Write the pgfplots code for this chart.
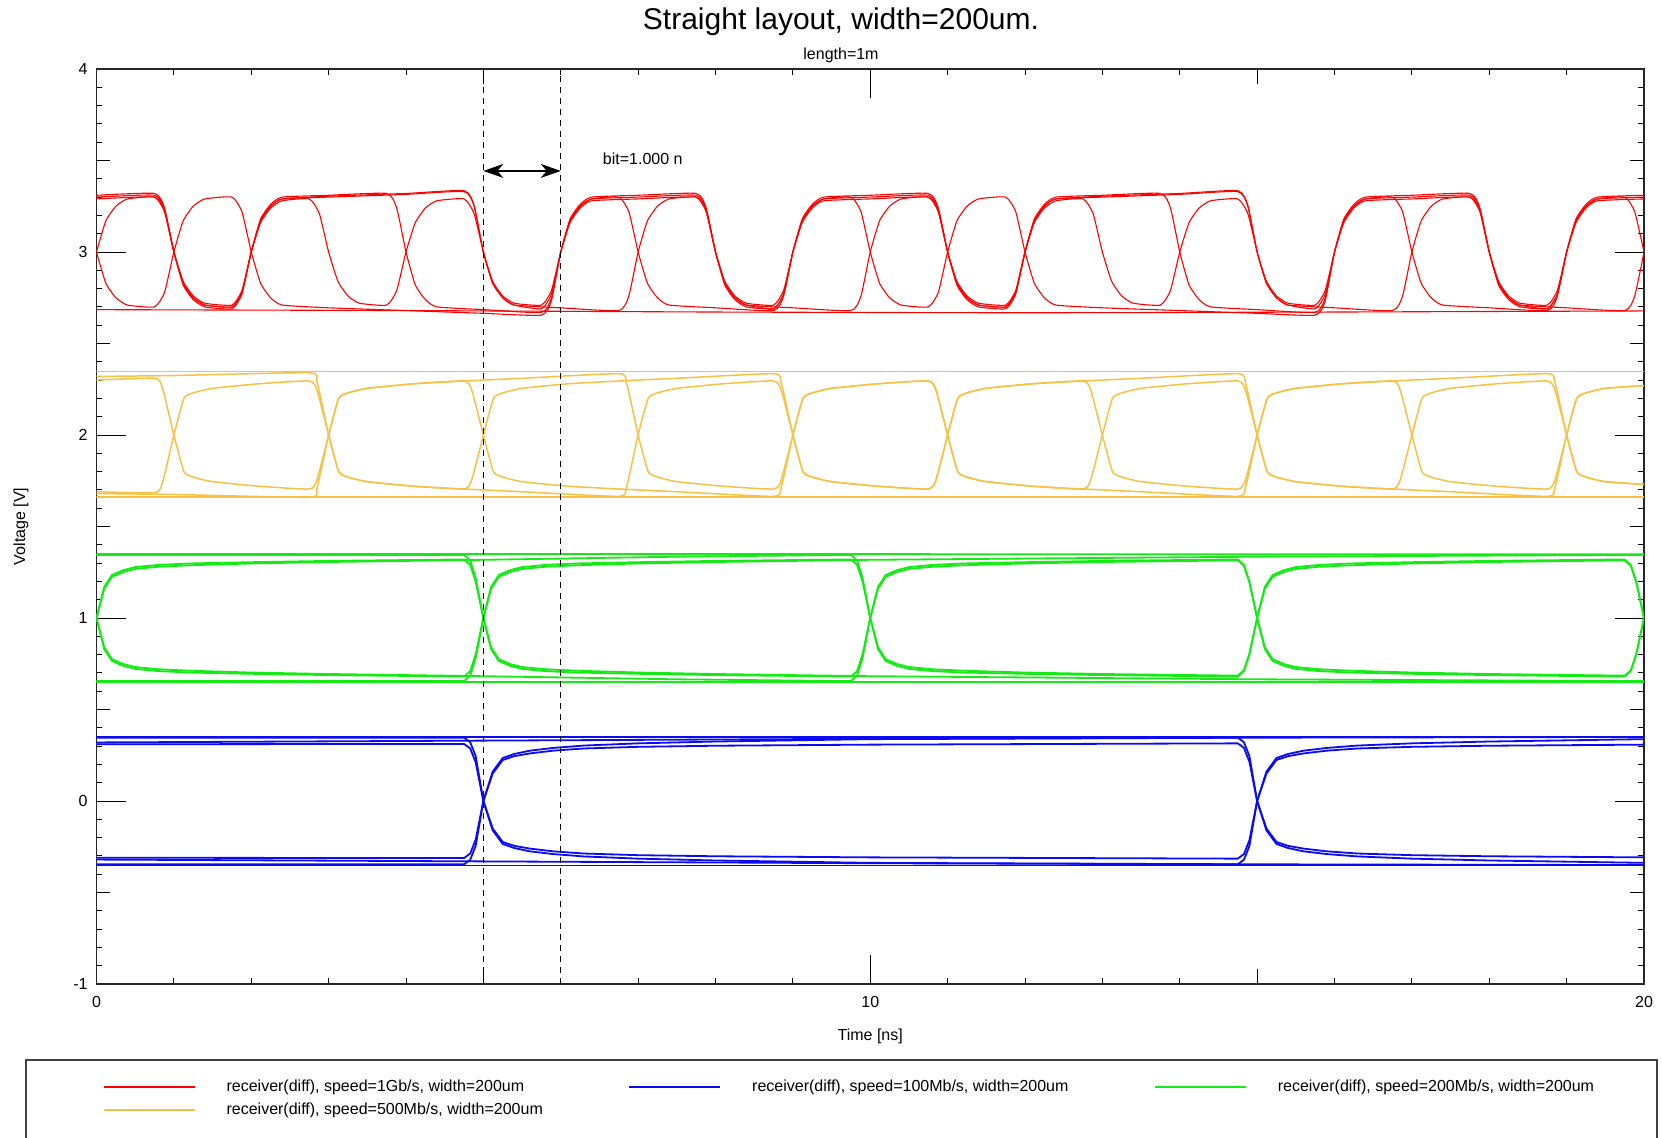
\documentclass[border=0pt]{standalone}
\usepackage{fontspec}
\setmainfont{Liberation Sans}
\usepackage{pgfplots}
\pgfplotsset{compat=1.18}
\usetikzlibrary{arrows.meta}
\definecolor{sigred}{RGB}{255,0,0}
\definecolor{sigyel}{RGB}{248,193,68}
\definecolor{siggrn}{RGB}{20,235,20}
\definecolor{sigblu}{RGB}{10,10,245}
\newcommand{\smallf}{\fontsize{8}{9.6}\selectfont}
\pgfplotsset{
  redtr/.style={sigred, line width=0.55pt, smooth, tension=0.3},
  yeltr/.style={sigyel, line width=0.75pt, smooth, tension=0.3},
  grntr/.style={siggrn, line width=0.9pt, sharp plot},
  blutr/.style={sigblu, line width=0.9pt, sharp plot},
}

\begin{document}
\begin{tikzpicture}
\begin{axis}[
  at={(0,0)}, anchor=south west,
  scale only axis,
  width=773.75pt, height=457.5pt,
  xmin=0, xmax=20, ymin=-1, ymax=4,
  xtick={0,10,20}, ytick={-1,0,1,2,3,4},
  minor x tick num=9, minor y tick num=9,
  extra x ticks={5,15}, extra x tick labels={},
  extra x tick style={major tick length=7.5pt},
  extra y ticks={-0.5,0.5,1.5,2.5,3.5}, extra y tick labels={},
  extra y tick style={major tick length=7pt},
  tick align=inside, xtick pos=both, ytick pos=both,
  xticklabel pos=lower, yticklabel pos=left,
  major tick length=14.7pt, minor tick length=3pt,
  every tick/.style={black, line width=0.5pt},
  axis line style={black!85, line width=0.9pt},
  /pgf/number format/assume math mode=true,
  ticklabel style={font=\smallf},
  xticklabel style={anchor=center, yshift=-9pt},
  yticklabel style={anchor=east, inner sep=0pt, xshift=-4.25pt},
  xlabel={Time [ns]},
  xlabel style={font=\smallf, at={(axis description cs:0.5,0)}, anchor=center, yshift=-26pt},
  legend columns=3,
  legend cell align=left,
  legend image code/.code={\draw[#1, line width=0.8pt] (0pt,0pt) -- (45.5pt,0pt);},
  legend style={draw=none, fill=none, inner sep=0pt, outer sep=0pt,
    nodes={inner sep=0pt}, font=\smallf,
    at={(axis description cs:0.0042,-0.1043)}, anchor=north west,
    row sep=4.4pt,
    /tikz/every odd column/.append style={column sep=15.5pt}},
]
% red, 1Gb/s
\addplot[redtr] coordinates {
(0,3.30) (0.75,3.31) (0.88,3.23) (1,3.0) (1.12,2.83) (1.25,2.75) (1.4,2.71) (1.75,2.70) (1.88,2.78) (2,3.0) (2.12,3.17) (2.25,3.25) (2.4,3.29) (3,3.30) (4,3.315) (4.75,3.33) (4.88,3.25) (5,3.0) (5.12,2.83) (5.25,2.75) (5.4,2.71) (5.75,2.69) (5.88,2.77) (6,3.0) (6.12,3.17) (6.25,3.25) (6.4,3.29) (7,3.30) (7.75,3.31) (7.88,3.23) (8,3.0) (8.12,2.83) (8.25,2.75) (8.4,2.71) (8.75,2.69) (8.88,2.77) (9,3.0) (9.12,3.17) (9.25,3.25) (9.4,3.29) (10,3.30) (10.75,3.31) (10.88,3.23) (11,3.0) (11.12,2.83) (11.25,2.75) (11.4,2.71) (11.75,2.70) (11.88,2.78) (12,3.0) (12.12,3.17) (12.25,3.25) (12.4,3.29) (13,3.30) (14,3.315) (14.75,3.33) (14.88,3.25) (15,3.0) (15.12,2.83) (15.25,2.75) (15.4,2.71) (15.75,2.69) (15.88,2.77) (16,3.0) (16.12,3.17) (16.25,3.25) (16.4,3.29) (17,3.30) (17.75,3.31) (17.88,3.23) (18,3.0) (18.12,2.83) (18.25,2.75) (18.4,2.71) (18.75,2.69) (18.88,2.77) (19,3.0) (19.12,3.17) (19.25,3.25) (19.4,3.29) (20,3.30)};
\addlegendentry{\makebox[201pt][l]{receiver(diff), speed=1Gb/s, width=200um}}
% blue, 100Mb/s
\addplot[blutr] coordinates {
(0,0.346) (4.75,0.346) (4.83,0.321) (4.9,0.246) (5,0.0) (5.12,-0.15) (5.25,-0.224) (5.4,-0.245) (5.6,-0.26) (5.9,-0.275) (6.3,-0.287) (7,-0.296) (8,-0.302) (10,-0.308) (14.75,-0.315) (14.83,-0.29) (14.9,-0.215) (15,0.0) (15.12,0.16) (15.25,0.235) (15.4,0.257) (15.6,0.275) (15.9,0.29) (16.3,0.303) (17,0.315) (18,0.325) (20,0.338)};
\addlegendentry{\makebox[201pt][l]{receiver(diff), speed=100Mb/s, width=200um}}
% green, 200Mb/s
\addplot[grntr] coordinates {
(0,1.0) (0.1,1.17) (0.2,1.235) (0.35,1.262) (0.5,1.278) (0.8,1.29) (1.2,1.298) (2,1.305) (3,1.312) (4.75,1.32) (4.83,1.29) (4.9,1.20) (5,1.0) (5.1,0.83) (5.2,0.765) (5.35,0.738) (5.5,0.722) (5.8,0.71) (6.2,0.702) (7,0.695) (8,0.688) (9.75,0.68) (9.83,0.71) (9.9,0.80) (10,1.0) (10.1,1.17) (10.2,1.235) (10.35,1.262) (10.5,1.278) (10.8,1.29) (11.2,1.298) (12,1.305) (13,1.312) (14.75,1.32) (14.83,1.29) (14.9,1.20) (15,1.0) (15.1,0.83) (15.2,0.765) (15.35,0.738) (15.5,0.722) (15.8,0.71) (16.2,0.702) (17,0.695) (18,0.688) (19.75,0.68) (19.83,0.71) (19.9,0.80) (20,1.0)};
\addlegendentry{\makebox[201pt][l]{receiver(diff), speed=200Mb/s, width=200um}}
% yellow, 500Mb/s
\addplot[yeltr] coordinates {
(0,2.30) (0.75,2.31) (0.85,2.26) (1,2.0) (1.13,1.80) (1.25,1.77) (1.5,1.745) (2.1,1.72) (2.75,1.705) (2.85,1.755) (3,2.0) (3.13,2.20) (3.25,2.23) (3.5,2.255) (4.1,2.28) (4.75,2.295) (5.5,2.31) (6.75,2.335) (6.85,2.285) (7,2.0) (7.13,1.80) (7.25,1.77) (7.5,1.745) (8.1,1.72) (8.75,1.705) (8.85,1.755) (9,2.0) (9.13,2.20) (9.25,2.23) (9.5,2.255) (10.1,2.28) (10.75,2.295) (10.85,2.245) (11,2.0) (11.13,1.80) (11.25,1.77) (11.5,1.745) (12.1,1.72) (12.75,1.705) (13.5,1.69) (14.75,1.665) (14.85,1.715) (15,2.0) (15.13,2.20) (15.25,2.23) (15.5,2.255) (16.1,2.28) (16.75,2.295) (16.85,2.245) (17,2.0) (17.13,1.80) (17.25,1.77) (17.5,1.745) (18.1,1.72) (18.75,1.705) (18.85,1.755) (19,2.0) (19.13,2.20) (19.25,2.23) (19.5,2.255) (20,2.27)};
\addlegendentry{\makebox[201pt][l]{receiver(diff), speed=500Mb/s, width=200um}}

\addplot[redtr, forget plot] coordinates {
(0,3.31) (0.75,3.32) (0.88,3.24) (1,3.0) (1.12,2.82) (1.25,2.74) (1.4,2.70) (1.75,2.69) (1.88,2.77) (2,3.0) (2.12,3.18) (2.25,3.26) (2.4,3.30) (3,3.31) (3.75,3.32) (3.88,3.24) (4,3.0) (4.12,2.82) (4.25,2.74) (4.4,2.70) (5,2.685) (5.75,2.67) (5.88,2.75) (6,3.0) (6.12,3.18) (6.25,3.26) (6.4,3.30) (7,3.31) (7.75,3.32) (7.88,3.24) (8,3.0) (8.12,2.82) (8.25,2.74) (8.4,2.70) (8.75,2.69) (8.88,2.77) (9,3.0) (9.12,3.18) (9.25,3.26) (9.4,3.30) (10,3.31) (10.75,3.32) (10.88,3.24) (11,3.0) (11.12,2.82) (11.25,2.74) (11.4,2.70) (11.75,2.69) (11.88,2.77) (12,3.0) (12.12,3.18) (12.25,3.26) (12.4,3.30) (13,3.31) (13.75,3.32) (13.88,3.24) (14,3.0) (14.12,2.82) (14.25,2.74) (14.4,2.70) (15,2.685) (15.75,2.67) (15.88,2.75) (16,3.0) (16.12,3.18) (16.25,3.26) (16.4,3.30) (17,3.31) (17.75,3.32) (17.88,3.24) (18,3.0) (18.12,2.82) (18.25,2.74) (18.4,2.70) (18.75,2.69) (18.88,2.77) (19,3.0) (19.12,3.18) (19.25,3.26) (19.4,3.30) (20,3.31)};
\addplot[redtr, forget plot] coordinates {
(0,3.29) (0.75,3.30) (0.88,3.22) (1,3.0) (1.12,2.84) (1.25,2.76) (1.4,2.72) (1.75,2.71) (1.88,2.79) (2,3.0) (2.12,3.16) (2.25,3.24) (2.4,3.28) (2.75,3.29) (2.88,3.21) (3,3.0) (3.12,2.84) (3.25,2.76) (3.4,2.72) (3.75,2.71) (3.88,2.79) (4,3.0) (4.12,3.16) (4.25,3.24) (4.4,3.28) (4.75,3.29) (4.88,3.21) (5,3.0) (5.12,2.84) (5.25,2.76) (5.4,2.72) (5.75,2.71) (5.88,2.79) (6,3.0) (6.12,3.16) (6.25,3.24) (6.4,3.28) (7,3.29) (7.75,3.30) (7.88,3.22) (8,3.0) (8.12,2.84) (8.25,2.76) (8.4,2.72) (8.75,2.71) (8.88,2.79) (9,3.0) (9.12,3.16) (9.25,3.24) (9.4,3.28) (10,3.29) (10.75,3.30) (10.88,3.22) (11,3.0) (11.12,2.84) (11.25,2.76) (11.4,2.72) (11.75,2.71) (11.88,2.79) (12,3.0) (12.12,3.16) (12.25,3.24) (12.4,3.28) (12.75,3.29) (12.88,3.21) (13,3.0) (13.12,2.84) (13.25,2.76) (13.4,2.72) (13.75,2.71) (13.88,2.79) (14,3.0) (14.12,3.16) (14.25,3.24) (14.4,3.28) (14.75,3.29) (14.88,3.21) (15,3.0) (15.12,2.84) (15.25,2.76) (15.4,2.72) (15.75,2.71) (15.88,2.79) (16,3.0) (16.12,3.16) (16.25,3.24) (16.4,3.28) (17,3.29) (17.75,3.30) (17.88,3.22) (18,3.0) (18.12,2.84) (18.25,2.76) (18.4,2.72) (18.75,2.71) (18.88,2.79) (19,3.0) (19.12,3.16) (19.25,3.24) (19.4,3.28) (20,3.29)};
\addplot[redtr, forget plot] coordinates {
(0,3.0) (0.12,2.83) (0.25,2.75) (0.4,2.71) (0.75,2.70) (0.88,2.78) (1,3.0) (1.12,3.17) (1.25,3.25) (1.4,3.29) (1.75,3.30) (1.88,3.22) (2,3.0) (2.12,2.83) (2.25,2.75) (2.4,2.71) (3,2.695) (4,2.68) (5,2.665) (5.75,2.655) (5.88,2.735) (6,3.0) (6.12,3.17) (6.25,3.25) (6.4,3.29) (6.75,3.30) (6.88,3.22) (7,3.0) (7.12,2.83) (7.25,2.75) (7.4,2.71) (8,2.695) (8.75,2.68) (8.88,2.76) (9,3.0) (9.12,3.17) (9.25,3.25) (9.4,3.29) (9.75,3.30) (9.88,3.22) (10,3.0) (10.12,2.83) (10.25,2.75) (10.4,2.71) (10.75,2.70) (10.88,2.78) (11,3.0) (11.12,3.17) (11.25,3.25) (11.4,3.29) (11.75,3.30) (11.88,3.22) (12,3.0) (12.12,2.83) (12.25,2.75) (12.4,2.71) (13,2.695) (14,2.68) (15,2.665) (15.75,2.655) (15.88,2.735) (16,3.0) (16.12,3.17) (16.25,3.25) (16.4,3.29) (16.75,3.30) (16.88,3.22) (17,3.0) (17.12,2.83) (17.25,2.75) (17.4,2.71) (18,2.695) (18.75,2.68) (18.88,2.76) (19,3.0) (19.12,3.17) (19.25,3.25) (19.4,3.29) (19.75,3.30) (19.88,3.22) (20,3.0)};
\addplot[redtr, forget plot] coordinates {
(0,3.0) (0.12,3.17) (0.25,3.25) (0.4,3.29) (0.75,3.30) (0.88,3.22) (1,3.0) (1.12,2.83) (1.25,2.75) (1.4,2.71) (1.75,2.70) (1.88,2.78) (2,3.0) (2.12,3.17) (2.25,3.25) (2.4,3.29) (3,3.305) (4,3.32) (4.75,3.335) (4.88,3.255) (5,3.0) (5.12,2.83) (5.25,2.75) (5.4,2.71) (6,2.695) (6.75,2.68) (6.88,2.76) (7,3.0) (7.12,3.17) (7.25,3.25) (7.4,3.29) (7.75,3.30) (7.88,3.22) (8,3.0) (8.12,2.83) (8.25,2.75) (8.4,2.71) (9,2.695) (9.75,2.68) (9.88,2.76) (10,3.0) (10.12,3.17) (10.25,3.25) (10.4,3.29) (10.75,3.30) (10.88,3.22) (11,3.0) (11.12,2.83) (11.25,2.75) (11.4,2.71) (11.75,2.70) (11.88,2.78) (12,3.0) (12.12,3.17) (12.25,3.25) (12.4,3.29) (13,3.305) (14,3.32) (14.75,3.335) (14.88,3.255) (15,3.0) (15.12,2.83) (15.25,2.75) (15.4,2.71) (16,2.695) (16.75,2.68) (16.88,2.76) (17,3.0) (17.12,3.17) (17.25,3.25) (17.4,3.29) (17.75,3.30) (17.88,3.22) (18,3.0) (18.12,2.83) (18.25,2.75) (18.4,2.71) (19,2.695) (19.75,2.68) (19.88,2.76) (20,3.0)};
\addplot[redtr, forget plot] coordinates {
(0,2.685) (4,2.68) (8,2.672) (12,2.668) (16,2.672) (20,2.678)};

% yellow, other sweeps
\addplot[yeltr, forget plot] coordinates {
(0,1.69) (0.75,1.685) (0.85,1.735) (1,2.0) (1.13,2.20) (1.25,2.23) (1.5,2.255) (2.1,2.28) (2.75,2.295) (2.85,2.245) (3,2.0) (3.13,1.80) (3.25,1.77) (3.5,1.745) (4.1,1.72) (4.75,1.705) (4.85,1.755) (5,2.0) (5.13,2.20) (5.25,2.23) (5.5,2.255) (6.1,2.28) (6.75,2.295) (7.5,2.31) (8.75,2.335) (8.85,2.285) (9,2.0) (9.13,1.80) (9.25,1.77) (9.5,1.745) (10.1,1.72) (10.75,1.705) (10.85,1.755) (11,2.0) (11.13,2.20) (11.25,2.23) (11.5,2.255) (12.1,2.28) (12.75,2.295) (12.85,2.245) (13,2.0) (13.13,1.80) (13.25,1.77) (13.5,1.745) (14.1,1.72) (14.75,1.705) (14.85,1.755) (15,2.0) (15.13,2.20) (15.25,2.23) (15.5,2.255) (16.1,2.28) (16.75,2.295) (17.5,2.31) (18.75,2.335) (18.85,2.285) (19,2.0) (19.13,1.80) (19.25,1.77) (19.5,1.745) (20,1.73)};
\addplot[yeltr, forget plot] coordinates {
(0,2.32) (1,2.325) (2.75,2.34) (2.85,2.29) (3,2.0) (3.13,1.80) (3.25,1.77) (3.5,1.745) (4.1,1.72) (4.75,1.705) (5.5,1.69) (6.75,1.665) (6.85,1.715) (7,2.0) (7.13,2.20) (7.25,2.23) (7.5,2.255) (8.1,2.28) (8.75,2.295) (8.85,2.245) (9,2.0) (9.13,1.80) (9.25,1.77) (9.5,1.745) (10.1,1.72) (10.75,1.705) (10.85,1.755) (11,2.0) (11.13,2.20) (11.25,2.23) (11.5,2.255) (12.1,2.28) (12.75,2.295) (13.5,2.31) (14.75,2.335) (14.85,2.285) (15,2.0) (15.13,1.80) (15.25,1.77) (15.5,1.745) (16.1,1.72) (16.75,1.705) (16.85,1.755) (17,2.0) (17.13,2.20) (17.25,2.23) (17.5,2.255) (18.1,2.28) (18.75,2.295) (18.85,2.245) (19,2.0) (19.13,1.80) (19.25,1.77) (19.5,1.745) (20,1.73)};
\addplot[yeltr, forget plot] coordinates {
(0,1.68) (1,1.675) (2.75,1.66) (2.85,1.71) (3,2.0) (3.13,2.20) (3.25,2.23) (3.5,2.255) (4.1,2.28) (4.75,2.295) (4.85,2.245) (5,2.0) (5.13,1.80) (5.25,1.77) (5.5,1.745) (6.1,1.72) (6.75,1.705) (7.5,1.69) (8.75,1.665) (8.85,1.715) (9,2.0) (9.13,2.20) (9.25,2.23) (9.5,2.255) (10.1,2.28) (10.75,2.295) (10.85,2.245) (11,2.0) (11.13,1.80) (11.25,1.77) (11.5,1.745) (12.1,1.72) (12.75,1.705) (12.85,1.755) (13,2.0) (13.13,2.20) (13.25,2.23) (13.5,2.255) (14.1,2.28) (14.75,2.295) (14.85,2.245) (15,2.0) (15.13,1.80) (15.25,1.77) (15.5,1.745) (16.1,1.72) (16.75,1.705) (17.5,1.69) (18.75,1.665) (18.85,1.715) (19,2.0) (19.13,2.20) (19.25,2.23) (19.5,2.255) (20,2.27)};
\addplot[yeltr, forget plot] coordinates {(0,2.348) (20,2.348)};
\addplot[yeltr, forget plot] coordinates {(0,1.662) (20,1.662)};

% green, other sweeps
\addplot[grntr, forget plot] coordinates {
(0,1.0) (0.1,0.83) (0.2,0.765) (0.35,0.738) (0.5,0.722) (0.8,0.71) (1.2,0.702) (2,0.695) (3,0.688) (4.75,0.68) (4.83,0.71) (4.9,0.80) (5,1.0) (5.1,1.17) (5.2,1.235) (5.35,1.262) (5.5,1.278) (5.8,1.29) (6.2,1.298) (7,1.305) (8,1.312) (9.75,1.32) (9.83,1.29) (9.9,1.20) (10,1.0) (10.1,0.83) (10.2,0.765) (10.35,0.738) (10.5,0.722) (10.8,0.71) (11.2,0.702) (12,0.695) (13,0.688) (14.75,0.68) (14.83,0.71) (14.9,0.80) (15,1.0) (15.1,1.17) (15.2,1.235) (15.35,1.262) (15.5,1.278) (15.8,1.29) (16.2,1.298) (17,1.305) (18,1.312) (19.75,1.32) (19.83,1.29) (19.9,1.20) (20,1.0)};
\addplot[grntr, forget plot] coordinates {
(0,1.0) (0.1,1.16) (0.2,1.225) (0.35,1.252) (0.5,1.268) (0.8,1.28) (1.2,1.288) (2,1.298) (3,1.306) (5,1.318) (7.5,1.335) (9.75,1.345) (9.83,1.315) (9.9,1.22) (10,1.0) (10.1,0.84) (10.2,0.775) (10.35,0.748) (10.5,0.732) (10.8,0.72) (11.2,0.712) (12,0.702) (13,0.694) (14.75,0.685) (14.83,0.715) (14.9,0.805) (15,1.0) (15.1,1.16) (15.2,1.225) (15.35,1.252) (15.5,1.268) (15.8,1.28) (16.2,1.288) (17,1.298) (18,1.306) (19.75,1.315) (19.83,1.285) (19.9,1.195) (20,1.0)};
\addplot[grntr, forget plot] coordinates {
(0,1.0) (0.1,0.84) (0.2,0.775) (0.35,0.748) (0.5,0.732) (0.8,0.72) (1.2,0.712) (2,0.702) (3,0.694) (5,0.682) (7.5,0.665) (9.75,0.655) (9.83,0.685) (9.9,0.78) (10,1.0) (10.1,1.16) (10.2,1.225) (10.35,1.252) (10.5,1.268) (10.8,1.28) (11.2,1.288) (12,1.298) (13,1.306) (14.75,1.315) (14.83,1.285) (14.9,1.195) (15,1.0) (15.1,0.84) (15.2,0.775) (15.35,0.748) (15.5,0.732) (15.8,0.72) (16.2,0.712) (17,0.702) (18,0.694) (19.75,0.685) (19.83,0.715) (19.9,0.805) (20,1.0)};
\addplot[grntr, forget plot] coordinates {
(0,1.345) (4.75,1.345) (4.83,1.315) (4.9,1.22) (5,1.0) (5.1,0.84) (5.2,0.775) (5.35,0.748) (5.5,0.732) (5.8,0.72) (6.2,0.712) (7,0.702) (8,0.694) (10,0.682) (15,0.665) (20,0.655)};
\addplot[grntr, forget plot] coordinates {
(0,0.655) (4.75,0.655) (4.83,0.685) (4.9,0.78) (5,1.0) (5.1,1.16) (5.2,1.225) (5.35,1.252) (5.5,1.268) (5.8,1.28) (6.2,1.288) (7,1.298) (8,1.306) (10,1.318) (15,1.335) (20,1.345)};
\addplot[grntr, forget plot] coordinates {(0,1.35) (20,1.348)};
\addplot[grntr, forget plot] coordinates {(0,0.652) (20,0.652)};

% blue, other sweeps
\addplot[blutr, forget plot] coordinates {
(0,-0.346) (4.75,-0.346) (4.83,-0.321) (4.9,-0.246) (5,0.0) (5.12,0.15) (5.25,0.224) (5.4,0.245) (5.6,0.26) (5.9,0.275) (6.3,0.287) (7,0.296) (8,0.302) (10,0.308) (14.75,0.315) (14.83,0.29) (14.9,0.215) (15,0.0) (15.12,-0.16) (15.25,-0.235) (15.4,-0.257) (15.6,-0.275) (15.9,-0.29) (16.3,-0.303) (17,-0.315) (18,-0.325) (20,-0.338)};
\addplot[blutr, forget plot] coordinates {
(0,0.31) (4.75,0.312) (4.83,0.287) (4.9,0.212) (5,0.0) (5.12,-0.16) (5.25,-0.235) (5.4,-0.257) (5.6,-0.275) (5.9,-0.29) (6.3,-0.303) (7,-0.315) (8,-0.325) (10,-0.338) (15,-0.346) (20,-0.35)};
\addplot[blutr, forget plot] coordinates {
(0,-0.31) (4.75,-0.312) (4.83,-0.287) (4.9,-0.212) (5,0.0) (5.12,0.16) (5.25,0.235) (5.4,0.257) (5.6,0.275) (5.9,0.29) (6.3,0.303) (7,0.315) (8,0.325) (10,0.338) (15,0.346) (20,0.35)};
\addplot[blutr, forget plot] coordinates {
(0,-0.32) (5,-0.33) (10,-0.34) (14.75,-0.346) (14.83,-0.321) (14.9,-0.246) (15,0.0) (15.12,0.15) (15.25,0.224) (15.4,0.245) (15.6,0.26) (15.9,0.275) (16.3,0.287) (17,0.296) (18,0.302) (20,0.308)};
\addplot[blutr, forget plot] coordinates {
(0,0.32) (5,0.33) (10,0.34) (14.75,0.346) (14.83,0.321) (14.9,0.246) (15,0.0) (15.12,-0.15) (15.25,-0.224) (15.4,-0.245) (15.6,-0.26) (15.9,-0.275) (16.3,-0.287) (17,-0.296) (18,-0.302) (20,-0.308)};
\addplot[blutr, forget plot] coordinates {(0,0.348) (20,0.348)};
\addplot[blutr, forget plot] coordinates {(0,-0.352) (20,-0.352)};

% bit markers
\addplot[black, sharp plot, line width=0.5pt, dash pattern=on 3pt off 2.5pt, forget plot] coordinates {(5,-1) (5,4)};
\addplot[black, sharp plot, line width=0.5pt, dash pattern=on 3pt off 2.5pt, forget plot] coordinates {(6,-1) (6,4)};
\addplot[black, sharp plot, line width=0.7pt, {Stealth[length=10pt,width=7pt,inset=3pt]}-{Stealth[length=10pt,width=7pt,inset=3pt]}, forget plot] coordinates {(5,3.443) (6,3.443)};
\node[font=\smallf, anchor=west, inner sep=0pt] at (axis cs:6.54,3.51) {bit=1.000 n};
\end{axis}
\node[font=\fontsize{15}{18}\selectfont] at (372.25pt,481pt) {Straight layout, width=200um.};
\node[font=\smallf] at (372.25pt,464.5pt) {length=1m};
\node[font=\smallf, rotate=90] at (-37.75pt,228.75pt) {Voltage [V]};
\draw[black!75, line width=0.9pt] (-35.25pt,-38pt) rectangle (780.25pt,-110pt);
\pgfresetboundingbox
\useasboundingbox (-48.25pt,-76.5pt) rectangle (782.75pt,492pt);
\end{tikzpicture}
\end{document}
